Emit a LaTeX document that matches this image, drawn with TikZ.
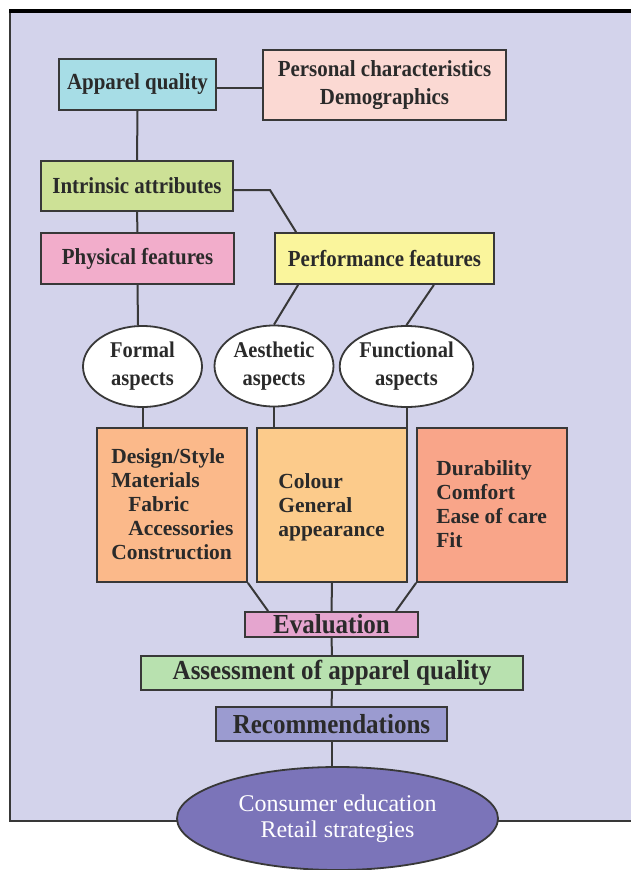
\documentclass[tikz,border=0pt]{standalone}
\usepackage{fontspec}
\setmainfont{Liberation Serif}
\newfontfamily\condfont[FakeStretch=0.91]{Liberation Serif}
\usetikzlibrary{shapes.geometric}
\definecolor{panel}{HTML}{D3D3EB}
\definecolor{edge}{HTML}{383838}
\definecolor{txt}{HTML}{2A2A2A}
\definecolor{cCyan}{HTML}{A7DDE6}
\definecolor{cPeach}{HTML}{FBD9D3}
\definecolor{cLime}{HTML}{CDE196}
\definecolor{cPink}{HTML}{F2ADCB}
\definecolor{cYellow}{HTML}{FAF59C}
\definecolor{cOrange}{HTML}{FBB98A}
\definecolor{cSand}{HTML}{FCCB8B}
\definecolor{cSalmon}{HTML}{F9A589}
\definecolor{cMauve}{HTML}{E5A5CF}
\definecolor{cMint}{HTML}{B8E1AF}
\definecolor{cLav}{HTML}{9B9BD0}
\definecolor{cViolet}{HTML}{7B74B9}
\begin{document}
\begin{tikzpicture}[x=1pt,y=-1pt,
  box/.style={draw=edge, line width=1.8pt, inner sep=0pt, text=txt, align=center,
    font=\condfont\bfseries\fontsize{23}{28}\selectfont},
  bigbox/.style={box, font=\condfont\bfseries\fontsize{27.5}{28}\selectfont},
  oval/.style={ellipse, draw=edge, line width=1.8pt, fill=white, inner sep=0pt, text=txt,
    align=center, minimum width=119pt, minimum height=81pt,
    font=\condfont\bfseries\fontsize{22.5}{28}\selectfont},
  listbox/.style={draw=edge, line width=1.8pt, inner sep=0pt, minimum width=150pt, minimum height=154pt},
  listtext/.style={anchor=west, inner sep=0pt, text=txt, align=left,
    font=\bfseries\fontsize{21.5}{24}\selectfont},
  link/.style={draw=edge, line width=2pt}
]
\useasboundingbox (0,0) rectangle (631,870);
% background panel
\fill[panel] (10,11) rectangle (631,821);
\draw[line width=2pt, edge] (10,11) -- (10,821) -- (631,821);
\draw[line width=4pt, black] (9,11) -- (631,11);

% nodes
\node[box, fill=cCyan, minimum width=157pt, minimum height=51pt] (apparel) at (137.5,84.5) {Apparel quality};
\node[box, fill=cPeach, minimum width=243pt, minimum height=70pt] (personal) at (384.5,85) {\raisebox{-3pt}{Personal characteristics}\\\raisebox{-3pt}{Demographics}};
\node[box, fill=cLime, minimum width=192pt, minimum height=50pt] (intrinsic) at (137,186) {Intrinsic attributes};
\node[box, fill=cPink, minimum width=193pt, minimum height=51pt] (physical) at (137.5,258.5) {Physical features};
\node[box, fill=cYellow, minimum width=219pt, minimum height=51pt] (performance) at (384.5,258.5) {Performance features};

\node[oval] (formal) at (142.5,366.5) {Formal\\aspects};
\node[oval] (aesthetic) at (274,366) {Aesthetic\\aspects};
\node[oval] (functional) at (406.5,366.5) {\raisebox{-4pt}{Functional}\\\raisebox{-4pt}{aspects}};

\node[listbox, fill=cOrange] (box1) at (172,505) {};
\node[listbox, fill=cSand] (box2) at (332,505) {};
\node[listbox, fill=cSalmon] (box3) at (492,505) {};
\node[listtext] (list1) at ([xshift=15pt,yshift=0.5pt]box1.west) {Design/Style\\Materials\\\hspace*{17pt}Fabric\\\hspace*{17pt}Accessories\\Construction};
\node[listtext] (list2) at ([xshift=22pt,yshift=-2pt]box2.west) {Colour\\General\\appearance};
\node[listtext] (list3) at ([xshift=20pt,yshift=0.5pt]box3.west) {Durability\\Comfort\\Ease of care\\Fit};

\node[bigbox, fill=cMauve, minimum width=173pt, minimum height=25pt] (evaluation) at (331.5,624.5) {Evaluation};
\node[bigbox, fill=cMint, minimum width=382pt, minimum height=34pt] (assessment) at (332,673) {Assessment of apparel quality};
\node[bigbox, fill=cLav, minimum width=231pt, minimum height=34pt] (recommend) at (331.5,724) {Recommendations};

% connectors
\coordinate (bend) at (270,190);
\path[link] ([yshift=-3.5pt]apparel.east) -- ([yshift=-3.5pt]apparel.east -| personal.west);
\path[link] (apparel.south) -- (intrinsic.north);
\path[link] (intrinsic.east |- bend) -- (bend) -- ([xshift=22pt]performance.north west);
\path[link] (intrinsic.south) -- (physical.north);
\path[link] (physical.south) -- ([xshift=-4.5pt]formal.north);
\path[link] ([xshift=24pt]performance.south west) -- (aesthetic.north);
\path[link] ([xshift=-61pt]performance.south east) -- (functional.north);
\path[link] (formal.south) -- (formal.south |- box1.north);
\path[link] (aesthetic.south) -- (aesthetic.south |- box2.north);
\path[link] (functional.south) -- (functional.south |- box3.north);
\path[link] (box1.south east) -- ([xshift=24pt]evaluation.north west);
\path[link] (box2.south) -- (evaluation.north);
\path[link] (box3.south west) -- ([xshift=-23pt]evaluation.north east);
\path[link] (evaluation.south) -- (assessment.north);
\path[link] (assessment.south) -- (recommend.north);

\node[ellipse, draw=edge, line width=1.8pt, fill=cViolet, inner sep=0pt,
  minimum width=321pt, minimum height=103pt, text=white, align=center,
  font=\fontsize{24}{26}\selectfont] (final) at (337.5,818.5) {Consumer education\\Retail strategies};
\path[link] (recommend.south) -- (recommend.south |- final.north);
\end{tikzpicture}
\end{document}
